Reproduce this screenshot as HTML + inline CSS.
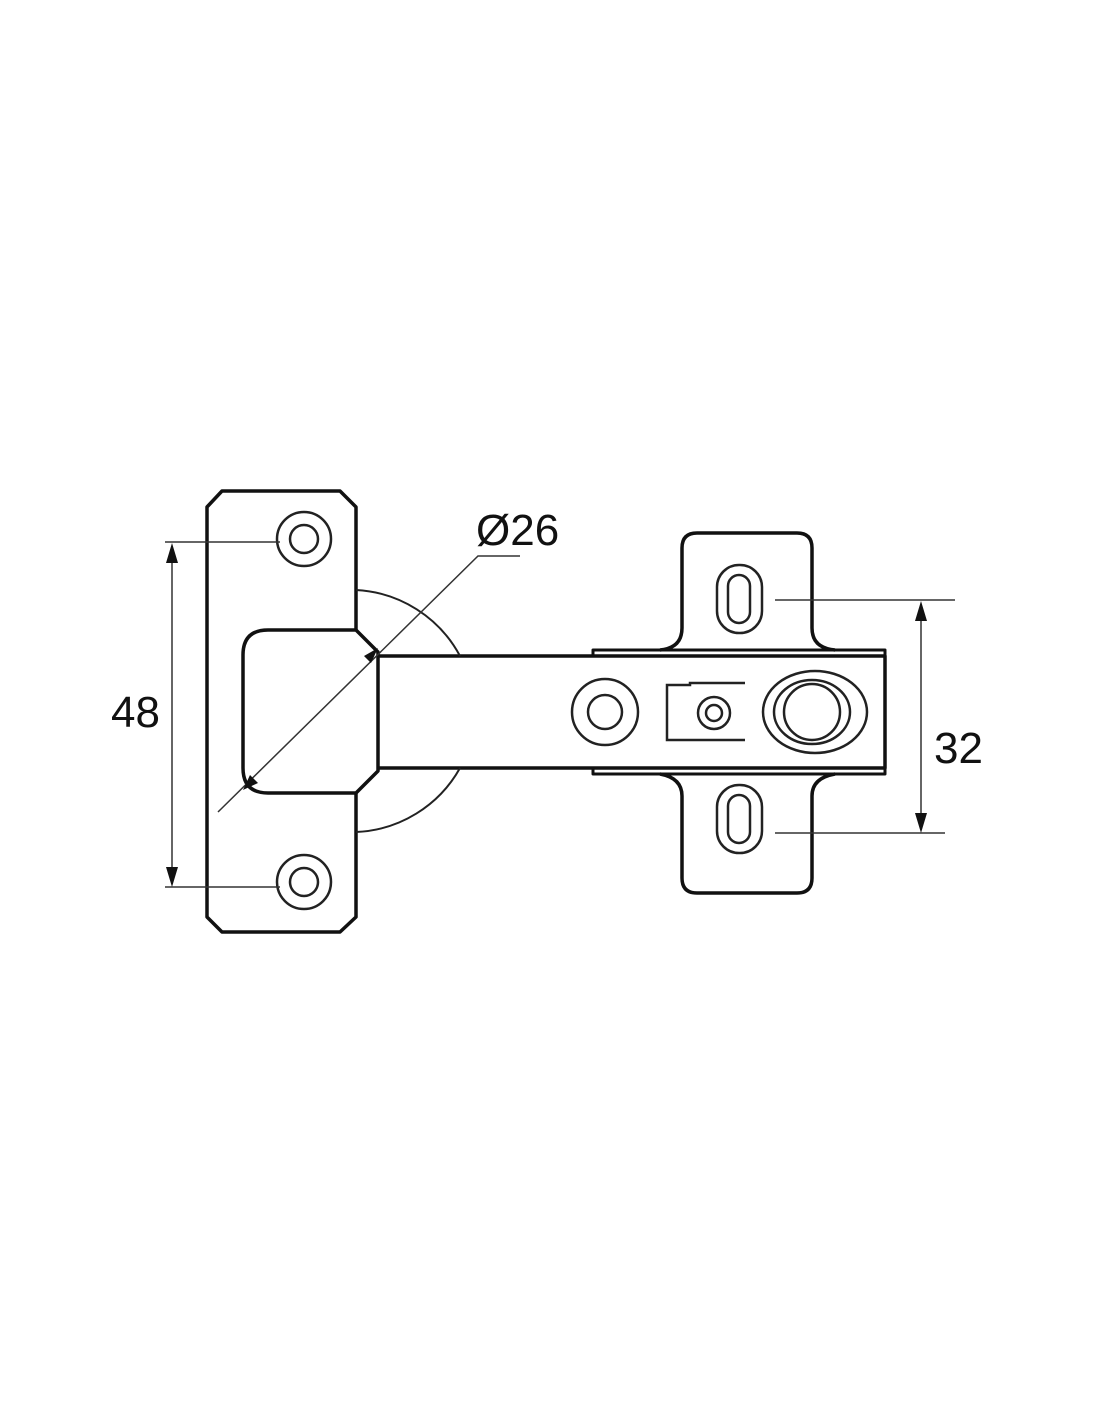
<!DOCTYPE html>
<html><head><style>body{margin:0;background:#fff}</style></head><body>
<svg width="1100" height="1422" viewBox="0 0 1100 1422" xmlns="http://www.w3.org/2000/svg" font-family="Liberation Sans, sans-serif">
<g fill="none" stroke="#111" stroke-width="3.5" stroke-linejoin="round">
<!-- left plate -->
<path d="M356,630 V507 L340,491 H222 L207,507 V917 L222,932 H340 L356,917 V793"/>
<!-- cup -->
<path d="M268,630 H356 L378,652 V771 L356,793 H268 Q243,793 243,768 V655 Q243,630 268,630 Z"/>
<!-- arm -->
<path d="M378,656 H885 V768 H378"/>
<path d="M593,656 V650 H885 V656 M593,768 V774 H885 V768" stroke-width="3"/>
<!-- mount plate -->
<path d="M660,650 Q682,648 682,628 V548 Q682,533 697,533 H797 Q812,533 812,548 V628 Q812,648 835,650"/>
<path d="M660,774 Q682,778 682,796 V878 Q682,893 697,893 H797 Q812,893 812,878 V796 Q812,778 835,774"/>
</g>
<g fill="none" stroke="#222" stroke-width="2.5">
<circle cx="304" cy="539" r="27"/><circle cx="304" cy="539" r="14"/>
<circle cx="304" cy="882" r="27"/><circle cx="304" cy="882" r="14"/>
<path d="M356,590 A125,125 0 0 1 460,656 M460,768 A125,125 0 0 1 356,832" stroke-width="2"/>
<rect x="717" y="565" width="45" height="68" rx="22"/><rect x="728" y="575" width="22" height="48" rx="11"/>
<rect x="717" y="785" width="45" height="68" rx="22"/><rect x="728" y="795" width="22" height="48" rx="11"/>
<circle cx="605" cy="712" r="33"/><circle cx="605" cy="712" r="17"/>
<path d="M745,683 H690 V685 H667 V740 H745"/><circle cx="714" cy="713" r="16"/><circle cx="714" cy="713" r="8"/>
<ellipse cx="815" cy="712" rx="52" ry="41"/><ellipse cx="812" cy="712" rx="38" ry="32"/><circle cx="812" cy="712" r="28"/>
</g>
<g stroke="#333" stroke-width="1.5" fill="none">
<path d="M165,542 H280 M165,887 H280 M172,560 V870"/>
<path d="M775,600 H955 M775,833 H945 M921,617 V815"/>
<path d="M520,556 H478 L218,812"/>
</g>
<g fill="#111">
<path d="M172,543 L166,563 H178 Z M172,887 L166,867 H178 Z"/>
<path d="M921,601 L915,621 H927 Z M921,833 L915,813 H927 Z"/>
<path d="M378,648 L364,656 L371,663 Z M243,790 L250,775 L258,783 Z"/>
</g>
<g fill="#111" font-size="44">
<text x="111" y="727">48</text>
<text x="934" y="763">32</text>
<text x="476" y="545">Ø26</text>
</g>
</svg>
</body></html>
